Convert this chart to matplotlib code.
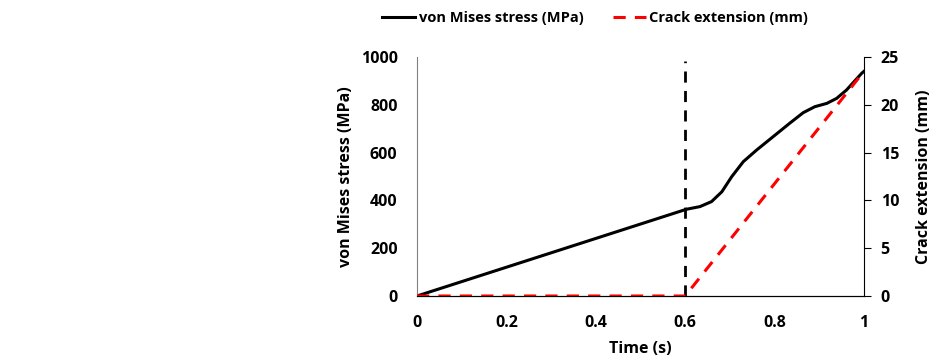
import numpy as np
import matplotlib.pyplot as plt

plt.rcParams['font.family'] = ['Open Sans', 'DejaVu Sans']
plt.rcParams['font.weight'] = 'bold'
plt.rcParams['font.size'] = 11.5

# stress curve
time_stress = [0, 0.603, 0.633, 0.659, 0.682, 0.704, 0.730, 0.760, 0.797, 0.834,
               0.864, 0.890, 0.917, 0.939, 0.961, 0.995, 1.0]
stress = [0, 363, 374, 395, 436, 499, 562, 611, 667, 723,
          767, 792, 806, 827, 862, 932, 940]

# crack extension
time_crack = [0, 0.6, 1.0]
crack = [0, 0, 23.5]

crack_time = 0.6

fig = plt.figure(figsize=(9.3, 3.58), dpi=100)
ax = fig.add_axes([0.4484, 0.1732, 0.4806, 0.6676])
ax2 = ax.twinx()

ax.plot(time_stress, stress, color='black', lw=2.2, solid_joinstyle='round',
        label='von Mises stress (MPa)')
ax.plot([crack_time, crack_time], [0, 985], color='black', lw=2, ls=(0, (4, 3)))
ax2.plot(time_crack, crack, color='red', lw=2.2, ls=(0, (4, 3)), label='Crack extension (mm)')

ax.set_xlim(0, 1)
ax.set_ylim(0, 1000)
ax2.set_ylim(0, 25)
ax.set_xticks([0, 0.2, 0.4, 0.6, 0.8, 1])
ax.set_xticklabels(['0', '0.2', '0.4', '0.6', '0.8', '1'])
ax.set_yticks([0, 200, 400, 600, 800, 1000])
ax2.set_yticks([0, 5, 10, 15, 20, 25])

ax.set_xlabel('Time (s)', fontweight='bold', labelpad=7)
ax.set_ylabel('von Mises stress (MPa)', fontweight='bold', labelpad=5)
ax2.set_ylabel('Crack extension (mm)', fontweight='bold', labelpad=12)

for a in (ax, ax2):
    a.spines['top'].set_visible(False)
ax.spines['left'].set_color('#808080')
ax.spines['right'].set_visible(False)
ax2.spines['left'].set_visible(False)
ax.tick_params(axis='x', length=0, pad=14)
ax.tick_params(axis='y', length=0, pad=14)
ax2.tick_params(axis='y', direction='out', length=5, pad=7)

h1, l1 = ax.get_legend_handles_labels()
h2, l2 = ax2.get_legend_handles_labels()
fig.legend(h1 + h2, l1 + l2, loc='center', bbox_to_anchor=(0.64, 0.95), ncol=2,
           frameon=False, fontsize=10.5, handlelength=2.25, columnspacing=2.0,
           handletextpad=0.25)

fig.savefig('out.png', dpi=100)
